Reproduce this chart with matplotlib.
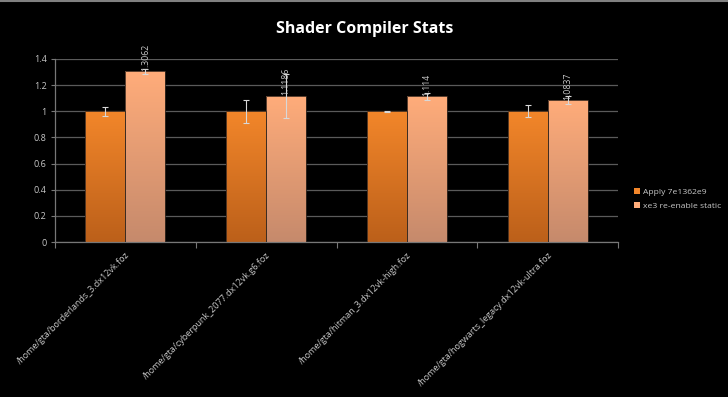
import matplotlib
matplotlib.use('Agg')
import matplotlib.pyplot as plt
import numpy as np

plt.rcParams['font.family'] = ['Open Sans', 'DejaVu Sans']

categories = ['/home/gta/borderlands_3.dx12vk.foz',
              '/home/gta/cyberpunk_2077.dx12vk.g6.foz',
              '/home/gta/hitman_3.dx12vk-high.foz',
              '/home/gta/hogwarts_legacy.dx12vk-ultra.foz']
series_names = ['Apply 7e1362e9', 'xe3 re-enable static']
base_vals = [1.0, 1.0, 1.0, 1.0]
new_vals = [1.3062, 1.1186, 1.114, 1.0837]
base_err = [0.034, 0.088, 0.006, 0.046]
new_err = [0.02, 0.17, 0.025, 0.03]
yticks = [0, 0.2, 0.4, 0.6, 0.8, 1, 1.2, 1.4]

# top / bottom colours of the gradient fills
grad = [('#f2862a', '#bc601a'), ('#ffac7a', '#c68a6c')]

fig = plt.figure(figsize=(7.28, 3.97), dpi=100, facecolor='black')
ax = fig.add_axes([55 / 728, 1 - 242 / 397, (618 - 55) / 728, (242 - 59) / 397])
ax.set_facecolor('black')

x = np.arange(len(categories))
w = 0.284
txt = '#c8c8c8'

def grad_bars(xs, vals, c_top, c_bot):
    bars = ax.bar(xs, vals, w, color='none', edgecolor='#3a2a20', linewidth=0.6, zorder=3)
    top = np.array(matplotlib.colors.to_rgb(c_top))
    bot = np.array(matplotlib.colors.to_rgb(c_bot))
    t = np.linspace(0, 1, 64)[:, None]
    img = (top * (1 - t) + bot * t)[:, None, :]
    for b in bars:
        x0, y0 = b.get_x(), b.get_y()
        im = ax.imshow(img, extent=[x0, x0 + b.get_width(), y0, y0 + b.get_height()],
                       aspect='auto', zorder=2, interpolation='bilinear')
        im.set_clip_path(b)
    return bars

grad_bars(x - w / 2, base_vals, *grad[0])
grad_bars(x + w / 2, new_vals, *grad[1])

ax.errorbar(x - w / 2, base_vals, yerr=base_err, fmt='none', ecolor='#d8d8d8',
            elinewidth=0.8, capsize=2.5, capthick=0.8, zorder=4)
ax.errorbar(x + w / 2, new_vals, yerr=new_err, fmt='none', ecolor='#d8d8d8',
            elinewidth=0.8, capsize=2.5, capthick=0.8, zorder=4)

for xi, v in zip(x + w / 2, new_vals):
    ax.text(xi, v + 0.005, '{:g}'.format(v), rotation=90, ha='center', va='bottom',
            color=txt, fontsize=6.3, zorder=5)

ax.set_xlim(-0.5, len(categories) - 0.5)
ax.set_ylim(0, 1.4)
ax.set_yticks(yticks)
ax.set_yticklabels(['{:g}'.format(v) for v in yticks])
ax.yaxis.grid(True, color='#5a5a5a', linewidth=0.9)
ax.set_axisbelow(True)

ax.set_xticks(np.arange(len(categories) + 1) - 0.5)
ax.set_xticklabels([])
ax.set_xticks(x, minor=True)
ax.set_xticklabels(categories, minor=True, rotation=45, ha='right', rotation_mode='anchor',
                   fontsize=6.5, color=txt)
ax.tick_params(axis='x', which='minor', length=0, pad=6)
ax.tick_params(axis='x', which='major', length=4, color='#777777')
ax.tick_params(axis='y', length=3, color='#777777', labelsize=6.5, labelcolor=txt, pad=3)

for s in ['top', 'right']:
    ax.spines[s].set_visible(False)
for s in ['left', 'bottom']:
    ax.spines[s].set_color('#777777')
    ax.spines[s].set_linewidth(0.9)

fig.text(365 / 728, 1 - 29 / 397, 'Shader Compiler Stats', ha='center', va='center',
         color='white', fontsize=11.5, fontweight='bold')

handles = [matplotlib.patches.Patch(facecolor=grad[i][0], edgecolor='none') for i in range(2)]
fig.legend(handles, series_names, loc='center left', bbox_to_anchor=(626 / 728, 1 - 199 / 397),
           frameon=False, fontsize=6.1, labelcolor=txt, handlelength=0.7, handleheight=0.7,
           handletextpad=0.4, labelspacing=0.7)

# thin frame line across the top
fig.add_artist(matplotlib.lines.Line2D([0, 1], [0.997, 0.997], color='#808080', linewidth=1.5))

fig.savefig('out.png', dpi=100, facecolor='black')
